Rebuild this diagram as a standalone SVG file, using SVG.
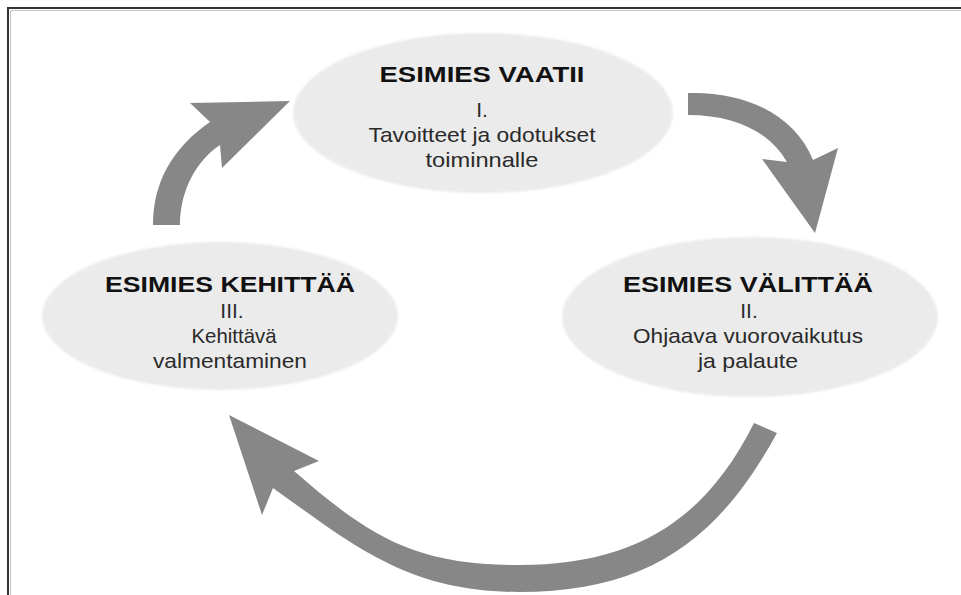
<svg xmlns="http://www.w3.org/2000/svg" width="961" height="595" viewBox="0 0 961 595">
<defs>
<filter id="soft" x="-5%" y="-5%" width="110%" height="110%"><feGaussianBlur stdDeviation="1.2"/></filter>
<style>
.node{fill:#ebebeb;}
.title{font-family:"Liberation Sans",Arial,sans-serif;font-weight:700;font-size:22px;fill:#111;text-anchor:middle;}
.body{font-family:"Liberation Sans",Arial,sans-serif;font-weight:400;font-size:21px;fill:#2a2a2a;text-anchor:middle;}
.arrow{fill:#878787;}
</style>
</defs>
<rect width="961" height="595" fill="#fff"/>
<g id="frame">
<path d="M8,595 V8 H961" fill="none" stroke="#333" stroke-width="2"/>
<path d="M10.5,595 V10.5 H961" fill="none" stroke="#c4c4c4" stroke-width="1"/>
</g>
<g id="connectors">
<path class="arrow" d="M153,225 C153,183 172,148 210,122 L190,103 L290,101 L222,168 L220,145 C197,160 180,190 180,225 Z"/>
<path class="arrow" d="M688,93 C745,91 795,115 813,160 L838,148 L815,233 L762,159 L787,162 C770,132 735,115 688,115 Z"/>
<path class="arrow" d="M777,433 C719,539 649,592 519,592 C409,592 354,546 273,488 L262,515 L229,415 L319,461 L294,471 C370,537 414,565 519,565 C634,565 705,521 754,423 Z"/>
</g>
<g id="node-vaatii">
<ellipse class="node" cx="483" cy="113" rx="190" ry="80" filter="url(#soft)"/>
<text class="title" x="482" y="82" textLength="205" lengthAdjust="spacingAndGlyphs">ESIMIES VAATII</text>
<text class="body" x="482" y="117">I.</text>
<text class="body" x="482" y="142" textLength="227" lengthAdjust="spacingAndGlyphs">Tavoitteet ja odotukset</text>
<text class="body" x="482" y="167" textLength="113" lengthAdjust="spacingAndGlyphs">toiminnalle</text>
</g>
<g id="node-valittaa">
<ellipse class="node" cx="750" cy="317" rx="188" ry="80" filter="url(#soft)"/>
<text class="title" x="748" y="292" textLength="250" lengthAdjust="spacingAndGlyphs">ESIMIES VÄLITTÄÄ</text>
<text class="body" x="749" y="318">II.</text>
<text class="body" x="748" y="343" textLength="230" lengthAdjust="spacingAndGlyphs">Ohjaava vuorovaikutus</text>
<text class="body" x="748" y="368" textLength="100" lengthAdjust="spacingAndGlyphs">ja palaute</text>
</g>
<g id="node-kehittaa">
<ellipse class="node" cx="220" cy="316" rx="178" ry="74" filter="url(#soft)"/>
<text class="title" x="230" y="292" textLength="250" lengthAdjust="spacingAndGlyphs">ESIMIES KEHITTÄÄ</text>
<text class="body" x="232" y="318">III.</text>
<text class="body" x="234" y="343" textLength="85" lengthAdjust="spacingAndGlyphs">Kehittävä</text>
<text class="body" x="230" y="368" textLength="154" lengthAdjust="spacingAndGlyphs">valmentaminen</text>
</g>
</svg>
